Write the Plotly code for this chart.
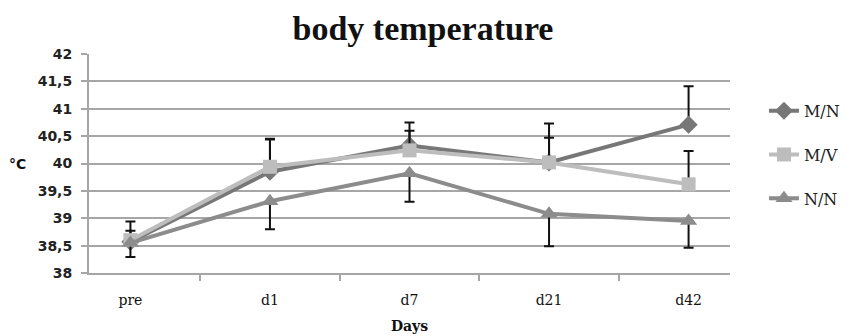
import plotly.graph_objects as go

days = ["pre", "d1", "d7", "d21", "d42"]
mn = [38.57, 39.85, 40.33, 40.02, 40.71]
mv = [38.60, 39.94, 40.24, 40.02, 39.62]
nn = [38.55, 39.31, 39.82, 39.08, 38.95]
mn_err_up = [0.37, 0.60, 0.42, 0.71, 0.70]
mv_err_up = [0.17, 0.50, 0.36, 0.45, 0.61]
nn_err_down = [0.26, 0.51, 0.52, 0.59, 0.49]
yticks = [38, 38.5, 39, 39.5, 40, 40.5, 41, 41.5, 42]

fig = go.Figure()

def add(name, y, color, symbol, size, plus=None, minus=None):
    err = dict(type="data", symmetric=False,
               array=plus if plus else [0]*len(y),
               arrayminus=minus if minus else [0]*len(y),
               color="#111111", thickness=2, width=5)
    fig.add_trace(go.Scatter(
        x=days, y=y, name=name, mode="lines+markers",
        line=dict(color=color, width=4),
        marker=dict(symbol=symbol, size=size, color=color),
        error_y=err, legendgroup=name))

add("M/N", mn, "#777777", "diamond", 14, plus=mn_err_up)
add("M/V", mv, "#bdbdbd", "square", 14, plus=mv_err_up)
add("N/N", nn, "#8c8c8c", "triangle-up", 15, minus=nn_err_down)

fig.update_layout(
    width=846, height=336,
    margin=dict(l=89, r=116, t=54, b=63, autoexpand=False),
    paper_bgcolor="white", plot_bgcolor="white",
    separators=",.",
    showlegend=True,
    title=dict(text="<b>body temperature</b>", x=0.5, xanchor="center",
               y=0.915, yanchor="middle", yref="container",
               font=dict(family="Liberation Serif", size=34, color="#111111")),
    legend=dict(x=1.053, y=0.818, xanchor="left", yanchor="top",
                font=dict(family="DejaVu Serif", size=16, color="#222222"),
                tracegroupgap=20, bgcolor="rgba(0,0,0,0)"),
    font=dict(family="DejaVu Sans", color="#222222"),
)

fig.update_yaxes(range=[38, 42], tickvals=yticks, automargin=False,
                 showgrid=True, gridcolor="#a6a6a6", gridwidth=2,
                 showline=True, linecolor="#a6a6a6", linewidth=2,
                 ticks="outside", ticklen=6, tickcolor="#a6a6a6", tickwidth=2,
                 ticklabelstandoff=6,
                 tickfont=dict(family="DejaVu Sans", size=14, color="#222222", weight="bold"),
                 zeroline=False)
fig.update_xaxes(type="category", showgrid=False, automargin=False,
                 showline=True, linecolor="#a6a6a6", linewidth=2,
                 ticks="outside", ticklen=6, tickcolor="#a6a6a6", tickwidth=2,
                 tickson="boundaries", ticklabelstandoff=13,
                 tickfont=dict(family="DejaVu Serif", size=14, color="#111111"),
                 title=dict(text="<b>Days</b>", standoff=14,
                            font=dict(family="DejaVu Serif", size=14, color="#111111")))

fig.add_annotation(text="<b>°C</b>", x=-0.128, xref="paper", y=40, yref="y",
                   showarrow=False, font=dict(family="DejaVu Sans", size=14, color="#111111"),
                   xanchor="left")

fig.write_html("out.html")
